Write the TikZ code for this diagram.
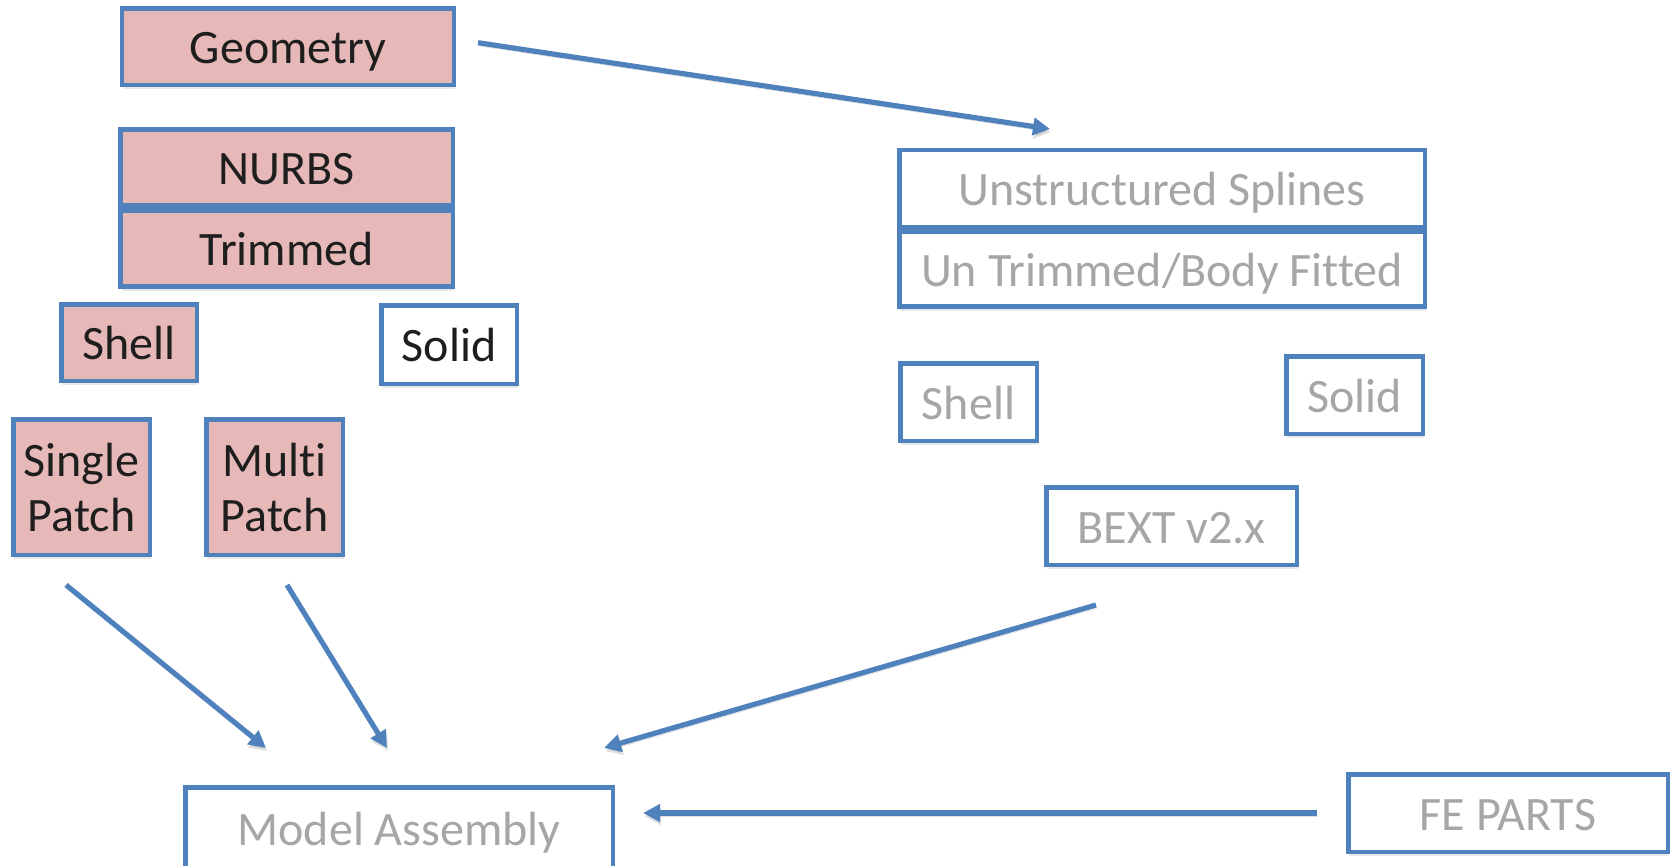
\documentclass[tikz,border=0pt]{standalone}
\usepackage{fontspec}
\setmainfont{Carlito}[Ligatures=NoCommon]
\usetikzlibrary{arrows.meta,shadows}
\definecolor{boxblue}{HTML}{4F81BD}
\definecolor{boxpink}{HTML}{E6B9B8}
\definecolor{inkdark}{HTML}{1E1E1E}
\definecolor{inkgray}{HTML}{A6A6A6}
\tikzset{
  box/.style={draw=boxblue, line width=2.25pt, inner sep=0pt, fill=white,
    font=\fontsize{24pt}{27.5pt}\selectfont, text height=17pt, text depth=0pt,
    drop shadow={opacity=0.18, shadow xshift=0.6pt, shadow yshift=-2pt}},
  donebox/.style={box, fill=boxpink, text=inkdark},
  plainbox/.style={box, text=inkdark},
  todobox/.style={box, text=inkgray},
  twoline/.style={text depth=27.5pt},
  flow/.style={draw=boxblue, line width=2.6pt, -{Triangle[length=8.5pt,width=8.5pt]},
    preaction={draw=black, opacity=0.12, transform canvas={shift={(0.6pt,-1.6pt)}}}},
}
\newcommand{\twolines}[2]{\begin{tabular}[t]{@{}c@{}}#1\\#2\end{tabular}}
\begin{document}
\begin{tikzpicture}[x=0.5pt,y=-0.5pt]
\useasboundingbox (0,0) rectangle (1680,866);

% left column: trimmed NURBS geometry
\node[donebox, minimum width=165.85pt, minimum height=38.35pt] (geom) at (288,46.7) {Geometry};
\node[donebox, minimum width=166.25pt, minimum height=38pt] (nurbs) at (286.75,167.5) {NURBS};
\node[donebox, minimum width=166.25pt, minimum height=38pt] (trim) at (286.75,248.5) {Trimmed};
\node[donebox, minimum width=67.75pt, minimum height=38.25pt] (shellL) at (129,342.5) {Shell};
\node[plainbox, minimum width=67.75pt, minimum height=39.25pt] (solidL) at (449,344.5) {Solid};
\node[donebox, twoline, minimum width=68.25pt, minimum height=67.75pt] (single) at (81.5,487) {\twolines{Single}{Patch}};
\node[donebox, twoline, minimum width=68.25pt, minimum height=67.75pt] (multi) at (274.5,487) {\twolines{Multi}{Patch}};

% right column: unstructured splines
\node[todobox, minimum width=262.75pt, minimum height=38.75pt] (unstr) at (1162,188.75) {Unstructured Splines};
\node[todobox, minimum width=262.75pt, minimum height=37.5pt] (untrim) at (1162,269) {Un Trimmed/Body Fitted};
\node[todobox, minimum width=68.25pt, minimum height=38.75pt] (shellR) at (968.5,402) {Shell};
\node[todobox, minimum width=68.25pt, minimum height=38.75pt] (solidR) at (1354.5,395) {Solid};
\node[todobox, minimum width=125.25pt, minimum height=38.75pt] (bext) at (1171.5,526) {BEXT v2.x};

% bottom row
\node[todobox, minimum width=213.75pt, minimum height=40.75pt] (model) at (399,828) {Model Assembly};
\node[todobox, minimum width=159.75pt, minimum height=38.75pt] (fe) at (1508,813) {FE PARTS};

% free ends of the connectors
\coordinate (geom-out) at (478,42.7);
\coordinate (unstr-in) at (1050,129);
\coordinate (single-out) at (66,585);
\coordinate (multi-out) at (287,585);
\coordinate (bext-out) at (1096,605);
\coordinate (model-in1) at (266,748);
\coordinate (model-in2) at (387,748);
\coordinate (model-in3) at (604,748);
\coordinate (fe-out) at (1317,813);
\coordinate (model-in4) at (643,813);

\draw[flow] (geom-out) -- (unstr-in);
\draw[flow] (single-out) -- (model-in1);
\draw[flow] (multi-out) -- (model-in2);
\draw[flow] (bext-out) -- (model-in3);
\draw[flow] (fe-out) -- (model-in4);
\end{tikzpicture}
\end{document}
